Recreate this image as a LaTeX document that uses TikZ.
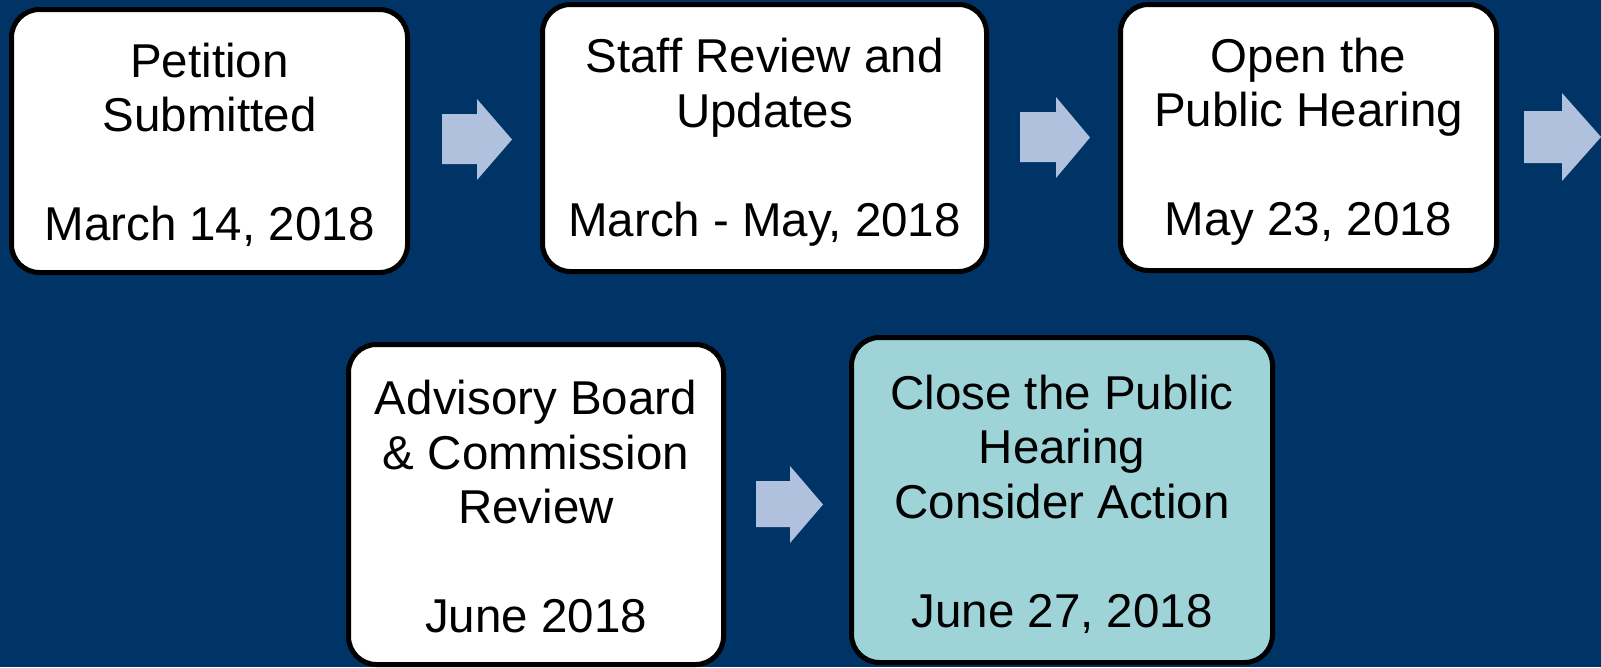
\documentclass[tikz,border=0pt]{standalone}
\usepackage{fontspec}
\setmainfont{Liberation Sans}
\definecolor{navy}{RGB}{0,51,102}
\definecolor{arrowblue}{RGB}{176,193,221}
\definecolor{tealbox}{RGB}{158,211,216}
\begin{document}
\begin{tikzpicture}[x=1pt,y=-1pt,
  stage/.style={draw=black, line width=5pt, fill=white, rounded corners=28pt, inner sep=0pt},
  stagetext/.style={align=center, text=black, inner sep=0pt,
    font=\fontsize{47.5}{54.5}\selectfont},
  blockarrow/.style={fill=arrowblue, draw=none}]
\fill[navy] (0,0) rectangle (1601,667);
\useasboundingbox (0,0) rectangle (1601,667);

\node[stage, minimum width=396pt, minimum height=263pt] (b1) at (209.5,141) {};
\node[stage, minimum width=444pt, minimum height=267pt] (b2) at (764.5,138) {};
\node[stage, minimum width=376pt, minimum height=266pt] (b3) at (1308.5,137.5) {};
\node[stage, minimum width=375pt, minimum height=320pt] (b4) at (536,504.5) {};
\node[stage, fill=tealbox, minimum width=421pt, minimum height=325pt] (b5) at (1062,500) {};

\node[stagetext] (t1) at ([yshift=-4pt]b1.center) {Petition\\Submitted\\ \\March 14, 2018};
\node[stagetext] (t2) at ([yshift=-4pt]b2.center) {Staff Review and\\Updates\\ \\March - May, 2018};
\node[stagetext] (t3) at ([yshift=-4pt]b3.center) {Open the\\Public Hearing\\ \\May 23, 2018};
\node[stagetext] (t4) at ([yshift=-2.5pt]b4.center) {Advisory Board\\\& Commission\\Review\\ \\June 2018};
\node[stagetext] (t5) at ([yshift=-4pt]b5.center) {Close the Public\\Hearing\\Consider Action\\ \\June 27, 2018};

\fill[blockarrow] (442,114) -- (477,114) -- (477,99) -- (512,139.5) -- (477,180) -- (477,164) -- (442,164) -- cycle;
\fill[blockarrow] (1020,112) -- (1056,112) -- (1056,97) -- (1090,137.5) -- (1056,178) -- (1056,162) -- (1020,162) -- cycle;
\fill[blockarrow] (1524,111) -- (1562,111) -- (1562,93) -- (1601,137) -- (1562,181) -- (1562,163) -- (1524,163) -- cycle;
\fill[blockarrow] (756,481) -- (790,481) -- (790,466) -- (823,504.5) -- (790,543) -- (790,527) -- (756,527) -- cycle;
\end{tikzpicture}
\end{document}
